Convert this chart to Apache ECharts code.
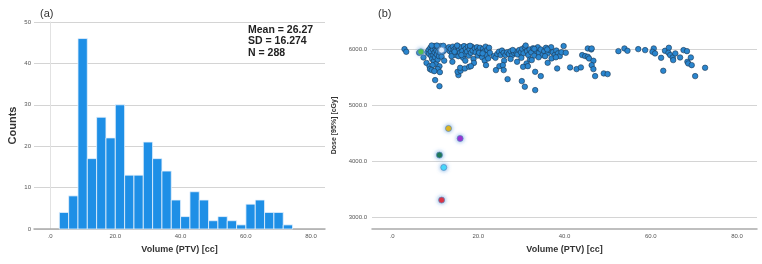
<!DOCTYPE html>
<html>
<head>
<meta charset="utf-8">
<script src="https://cdn.jsdelivr.net/npm/echarts@6/dist/echarts.min.js"></script>
<style>
  html, body { margin: 0; padding: 0; background: #fff; }
  #main { width: 762px; height: 264px; }
</style>
</head>
<body>
<div id="main"></div>
<script>
// 直方图：每个区间的计数 (a)
var binStart = 2.86, binWidth = 2.86;
var counts = [4, 8, 46, 17, 27, 22, 30, 13, 13, 21, 17, 14, 7, 3, 9, 7, 2, 3, 2, 1, 6, 7, 4, 4, 1];
var statLines = ['Mean = 26.27', 'SD = 16.274', 'N = 288'];

var xTicks = [0, 20, 40, 60, 80];
var doseTicks = [3000, 4000, 5000, 6000];

// 散点 (b)：[体积, 剂量]
var scatterPts = [
  [2.9,6006],[3.3,5958],[6.3,5940],[7.3,5857],
  [8.2,5950],[8.5,5990],[8.6,5920],[8.9,6030],[9.0,5960],[9.1,5880],[9.3,6050],[9.3,5830],[9.5,6000],[9.6,5900],
  [9.7,5790],[9.8,6060],[9.9,5950],[10.0,5860],[10.1,6020],[10.2,5740],[10.3,5980],[10.4,5910],[10.5,6055],[10.6,5820],
  [10.7,5960],[10.8,6030],[10.9,5880],[11.0,5700],[11.1,6000],[11.2,5940],[11.3,6060],[11.5,5870],[11.6,6020],[11.8,5960],
  [12.0,6040],[12.2,5990],[8.0,5760],[8.7,5700],[9.4,5720],[10.6,5650],[12.1,5800],[9.2,6070],[10.4,6070],[11.9,6065],
  [8.8,5649],[9.2,5631],[9.8,5613],[10.0,5453],[11.0,5345],[11.1,5595],
  [13.2,6040],[13.4,5970],[13.6,6010],[13.9,5930],[14.1,6050],[14.3,5990],[14.6,5900],[14.8,6030],[15.0,5960],[15.2,6060],
  [15.4,5880],[15.6,6000],[15.8,5940],[16.0,6040],[16.3,5970],[16.5,5850],[16.7,6060],[16.9,5920],[17.1,6010],[17.4,5960],
  [17.6,6050],[17.8,5890],[18.0,6000],[18.3,5940],[18.5,6050],[18.7,5980],[18.9,5830],[19.2,6020],[19.4,5950],[19.7,6040],
  [19.9,5890],[20.1,5990],[20.4,6030],[20.6,5920],[20.9,5860],[21.1,6010],[21.3,5960],[21.5,5800],[21.7,6050],[21.9,5900],
  [22.1,5990],[22.3,5840],[22.5,6030],[22.7,5940],[14.0,5780],[17.0,5800],[19.0,5760],[13.8,5880],[15.1,6070],[18.1,6065],
  [20.2,5940],[16.1,5900],[21.0,5930],[14.5,5960],
  [15.4,5542],[15.2,5601],[15.9,5619],[15.8,5673],[16.9,5661],[17.9,5690],[18.3,5702],[21.8,5720],
  [23.6,5880],[24.0,5850],[24.4,5920],[24.8,5960],[25.2,5900],[25.5,5980],[25.9,5940],[26.3,5900],[26.7,5950],[27.1,5920],
  [27.5,5970],[27.9,5900],[28.3,5940],[28.7,5960],[29.1,5910],[29.5,5990],[29.9,5950],[30.2,6010],[30.5,5930],[30.8,6040],
  [31.0,6070],[31.3,5970],[31.6,5900],[31.9,6000],[32.3,5950],[32.7,6020],[33.0,5890],[33.4,5980],[33.8,6040],[34.1,5940],
  [34.5,6000],[34.9,5900],[35.3,5970],[35.7,6030],[36.1,5930],[36.5,5990],[36.9,6040],[37.3,5950],[37.7,5900],[38.1,5980],
  [38.5,5930],[38.9,5880],[39.3,5950],[26.0,5800],[27.5,5830],[29.0,5780],[30.0,5850],[31.2,5750],[32.0,5820],[34.0,5860],
  [35.5,5880],[37.0,5840],[38.0,5860],[28.0,5990],[33.0,6010],[36.0,6000],
  [24.1,5631],[24.9,5702],[25.7,5720],[25.9,5631],[26.8,5470],[30.1,5435],[30.8,5334],[33.2,5274],[33.2,5601],[34.5,5524],
  [30.4,5690],[31.5,5702],[32.4,5810],[36.1,5762],[38.3,5661],[39.8,6060],[40.3,5940],
  [41.3,5679],[42.8,5649],[43.8,5679],[44.1,5899],[44.8,5881],[45.4,5869],[45.7,5839],[46.7,5798],[46.3,5720],[46.7,5649],
  [47.1,5524],[45.4,6018],[46.2,6000],[46.3,6018],[49.1,5572],[50.0,5560],
  [52.5,5970],[53.9,6018],[54.6,5976],[57.1,6006],[58.7,5988],[60.7,6018],[60.4,5958],[61.0,5929],[62.4,5851],[62.9,5619],
  [63.3,5976],[64.2,6030],[64.1,5940],[64.5,5899],[65.1,5857],[65.2,5810],[65.7,5929],
  [66.8,5857],[67.6,5988],[68.4,5970],[68.5,5780],[68.7,5750],[69.3,5857],[69.5,5720],[70.3,5524],[72.6,5673]
];

// 特殊标记点
var markedPts = [[6.7,5958],[11.5,5988],[13.1,4590],[15.8,4411],[11.0,4114],[12.0,3894],[11.5,3311]];
var markedColors = ['#4cc23a', '#f4f8ff', '#f0b800', '#a020d0', '#127040', '#40e0ff', '#f0202a'];

function fmtTick(v) {
  return v === 0 ? '.0' : v.toFixed(1);
}

var chart = echarts.init(document.getElementById('main'));

var axisLbl = { fontSize: 6, color: '#555', fontFamily: 'Liberation Sans' };
var nameStyle = { fontSize: 9, fontWeight: 'bold', color: '#333', fontFamily: 'Liberation Sans' };

var option = {
  backgroundColor: '#fff',
  animation: false,
  title: [
    { text: '(a)', left: 35, top: 3, textStyle: { fontSize: 11, fontWeight: 'normal', color: '#333', fontFamily: 'Liberation Sans' } },
    { text: '(b)', left: 373, top: 3, textStyle: { fontSize: 11, fontWeight: 'normal', color: '#333', fontFamily: 'Liberation Sans' } },
    { text: statLines.join('\n'), left: 243, top: 19,
      textStyle: { fontSize: 10.5, fontWeight: 'bold', color: '#222', lineHeight: 11.5, fontFamily: 'Liberation Sans' } }
  ],
  grid: [
    { left: 34, right: 437, top: 22, bottom: 35 },
    { left: 372, right: 5, top: 22, bottom: 35 }
  ],
  xAxis: [
    {
      gridIndex: 0, type: 'value', min: -4.9, max: 84.3,
      name: 'Volume (PTV) [cc]', nameLocation: 'middle', nameGap: 16, nameTextStyle: nameStyle,
      axisLine: { lineStyle: { color: '#aaa', width: 1.5 } },
      axisTick: { show: false, customValues: xTicks },
      axisLabel: Object.assign({ customValues: xTicks, formatter: fmtTick, margin: 4 }, axisLbl),
      splitLine: { show: false }
    },
    {
      gridIndex: 1, type: 'value', min: -4.64, max: 84.64,
      name: 'Volume (PTV) [cc]', nameLocation: 'middle', nameGap: 16, nameTextStyle: nameStyle,
      axisLine: { lineStyle: { color: '#aaa', width: 1.5 } },
      axisTick: { show: false, customValues: xTicks },
      axisLabel: Object.assign({ customValues: xTicks, formatter: fmtTick, margin: 4 }, axisLbl),
      splitLine: { show: false }
    }
  ],
  yAxis: [
    {
      gridIndex: 0, type: 'value', min: 0, max: 50, interval: 10,
      name: 'Counts', nameLocation: 'middle', nameGap: 16,
      nameTextStyle: { fontSize: 11, fontWeight: 'bold', color: '#333', fontFamily: 'Liberation Sans' },
      axisLine: { show: true, lineStyle: { color: '#e2e2e2' } },
      axisTick: { show: false },
      axisLabel: Object.assign({ margin: 3 }, axisLbl),
      splitLine: { lineStyle: { color: '#d4d4d4' } }
    },
    {
      gridIndex: 1, type: 'value', min: 2795, max: 6490,
      name: 'Dose [95%] [cGy]', nameLocation: 'middle', nameGap: 27,
      nameTextStyle: { fontSize: 7, fontWeight: 'bold', color: '#333', fontFamily: 'Liberation Sans' },
      axisLine: { show: false },
      axisTick: { show: false, customValues: doseTicks },
      axisLabel: Object.assign({ customValues: doseTicks, formatter: fmtTick, margin: 5 }, axisLbl),
      splitLine: { lineStyle: { color: '#d4d4d4' } }
    }
  ],
  series: [
    {
      type: 'custom', xAxisIndex: 0, yAxisIndex: 0,
      data: counts.map(function (c, i) { return [i, c]; }),
      renderItem: function (params, api) {
        var i = api.value(0);
        var x0 = binStart + i * binWidth;
        var p0 = api.coord([x0, api.value(1)]);
        var p1 = api.coord([x0 + binWidth, 0]);
        return {
          type: 'rect',
          shape: { x: p0[0], y: p0[1], width: p1[0] - p0[0], height: p1[1] - p0[1] },
          style: { fill: '#1e8fe6', stroke: '#e8f3fc', lineWidth: 0.8 }
        };
      },
      encode: { x: 0, y: 1 }
    },
    {
      type: 'scatter', xAxisIndex: 1, yAxisIndex: 1,
      data: scatterPts, symbolSize: 5.5,
      itemStyle: { color: '#2a86cf', borderColor: '#1b3550', borderWidth: 0.6, opacity: 1 }
    },
    {
      type: 'scatter', xAxisIndex: 1, yAxisIndex: 1, z: 3,
      data: markedPts.map(function (p, i) {
        return { value: p, itemStyle: { color: markedColors[i] } };
      }),
      symbolSize: 6,
      itemStyle: { borderColor: '#5a88c0', borderWidth: 0.7, shadowBlur: 4, shadowColor: '#6fa6e0', opacity: 1 }
    }
  ]
};
chart.setOption(option);
</script>
</body>
</html>
